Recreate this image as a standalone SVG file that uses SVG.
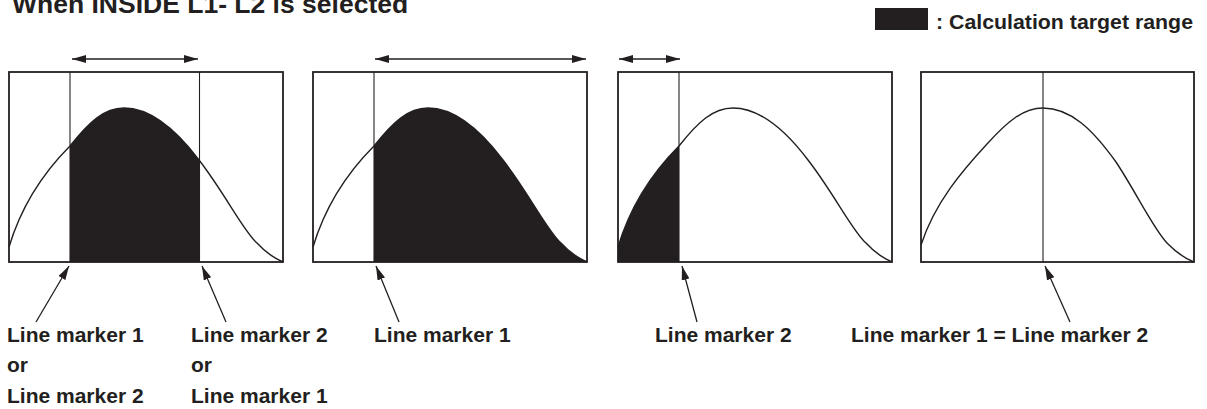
<svg xmlns="http://www.w3.org/2000/svg" width="1207" height="409" viewBox="0 0 1207 409">
<style>
text{font-family:"Liberation Sans",Arial,sans-serif;font-weight:bold;fill:#231f20}
.lbl{font-size:21px}
.title{font-size:26.5px}
.box{fill:none;stroke:#231f20;stroke-width:1.8}
.mk{stroke:#231f20;stroke-width:1.1;fill:none}
.crv{fill:none;stroke:#231f20;stroke-width:1.4}
.area{fill:#231f20;stroke:none}
.arr{stroke:#231f20;stroke-width:1.3;fill:none}
</style>
<defs>
<marker id="ah" viewBox="0 0 14 8" refX="14" refY="4" markerWidth="14" markerHeight="8" markerUnits="userSpaceOnUse" orient="auto-start-reverse">
<path d="M0,0 L14,4 L0,8 Z" fill="#231f20"/>
</marker>
<path id="curveA" d="M0,175 C12,135 35,100 61,74 C80,50 95,36 115,36 C140,36 165,55 190,88 C215,120 235,160 248,171 C258,182 266,186 274,190"/>
</defs>
<rect width="1207" height="409" fill="#fff"/>
<text class="title" x="12" y="13">When INSIDE L1- L2 is selected</text>
<g id="legend">
<rect x="875" y="8" width="53" height="22" fill="#231f20"/>
<text class="lbl" x="936" y="29" textLength="257" lengthAdjust="spacingAndGlyphs">: Calculation target range</text>
</g>
<g id="panel1" transform="translate(9,72)">
<path class="area" d="M61,190 L61,74 C80,50 95,36 115,36 C140,36 165,55 190,88 L190,190 Z"/>
<use href="#curveA" class="crv"/>
<line class="mk" x1="61" y1="0" x2="61" y2="190"/>
<line class="mk" x1="190.5" y1="0" x2="190.5" y2="190"/>
<rect class="box" x="0" y="0" width="274" height="190"/>
</g>
<g id="panel2" transform="translate(313,72)">
<path class="area" d="M61,190 L61,74 C80,50 95,36 115,36 C140,36 165,55 190,88 C215,120 235,160 248,171 C258,182 266,186 274,190 Z"/>
<use href="#curveA" class="crv"/>
<line class="mk" x1="61" y1="0" x2="61" y2="190"/>
<rect class="box" x="0" y="0" width="274" height="190"/>
</g>
<g id="panel3" transform="translate(618,72)">
<path class="area" d="M0,190 L0,175 C12,135 35,100 61,74 L61,190 Z"/>
<use href="#curveA" class="crv"/>
<line class="mk" x1="61" y1="0" x2="61" y2="190"/>
<rect class="box" x="0" y="0" width="274" height="190"/>
</g>
<g id="panel4" transform="translate(921,72)">
<path class="crv" d="M0,173 C14,130 42,98 66,72 C86,50 102,36 122,36 C150,36 172,58 195,90 C215,120 234,160 247,172 C257,182 265,187 273,190"/>
<line class="mk" x1="122" y1="0" x2="122" y2="190"/>
<rect class="box" x="0" y="0" width="273" height="190"/>
</g>
<g id="connectors">
<line class="arr" x1="72" y1="59" x2="198" y2="59" marker-start="url(#ah)" marker-end="url(#ah)"/>
<line class="arr" x1="375" y1="59" x2="586" y2="59" marker-start="url(#ah)" marker-end="url(#ah)"/>
<line class="arr" x1="619" y1="59" x2="680" y2="59" marker-start="url(#ah)" marker-end="url(#ah)"/>
<line class="arr" x1="36" y1="322" x2="69" y2="266" marker-end="url(#ah)"/>
<line class="arr" x1="226" y1="322" x2="202" y2="266" marker-end="url(#ah)"/>
<line class="arr" x1="399" y1="322" x2="376" y2="266" marker-end="url(#ah)"/>
<line class="arr" x1="697" y1="322" x2="682" y2="266" marker-end="url(#ah)"/>
<line class="arr" x1="1070" y1="322" x2="1045" y2="266" marker-end="url(#ah)"/>
</g>
<g id="labels">
<text class="lbl" x="7" y="342">Line marker 1</text>
<text class="lbl" x="7" y="372">or</text>
<text class="lbl" x="7" y="403">Line marker 2</text>
<text class="lbl" x="191" y="342">Line marker 2</text>
<text class="lbl" x="191" y="372">or</text>
<text class="lbl" x="191" y="403">Line marker 1</text>
<text class="lbl" x="374" y="342">Line marker 1</text>
<text class="lbl" x="655" y="342">Line marker 2</text>
<text class="lbl" x="851" y="342">Line marker 1 = Line marker 2</text>
</g>
</svg>
